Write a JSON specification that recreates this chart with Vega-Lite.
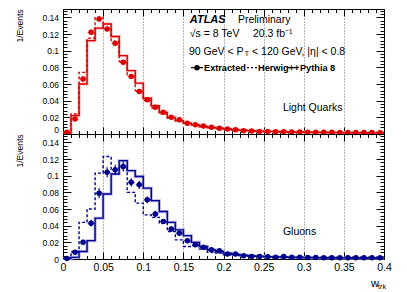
{
"$schema": "https://vega.github.io/schema/vega-lite/v6.json",
"padding": {"left": 15, "top": 8, "right": 10, "bottom": 4},
"spacing": 0,
"bounds": "flush",
"config": {
  "font": "Liberation Sans",
  "concat": {"spacing": 0},
  "view": {"stroke": "black", "strokeWidth": 1},
  "axis": {"tickColor": "black", "labelColor": "black", "titleColor": "black", "domain": false, "grid": false, "tickWidth": 1, "labelFont": "Liberation Sans", "titleFont": "Liberation Sans", "titleFontWeight": "normal"},
  "text": {"font": "Liberation Sans"}
},
"datasets": {
  "hq": [
    {"s":"P","x":0,"y":0.001},{"s":"P","x":0.01,"y":0.022},{"s":"P","x":0.02,"y":0.060},{"s":"P","x":0.03,"y":0.112},{"s":"P","x":0.04,"y":0.127},{"s":"P","x":0.05,"y":0.132},{"s":"P","x":0.06,"y":0.117},{"s":"P","x":0.07,"y":0.094},{"s":"P","x":0.08,"y":0.076},{"s":"P","x":0.09,"y":0.061},{"s":"P","x":0.10,"y":0.043},{"s":"P","x":0.11,"y":0.034},{"s":"P","x":0.12,"y":0.026},{"s":"P","x":0.13,"y":0.020},{"s":"P","x":0.14,"y":0.016},{"s":"P","x":0.15,"y":0.013},{"s":"P","x":0.16,"y":0.011},{"s":"P","x":0.17,"y":0.009},{"s":"P","x":0.18,"y":0.008},{"s":"P","x":0.19,"y":0.007},{"s":"P","x":0.20,"y":0.006},{"s":"P","x":0.21,"y":0.005},{"s":"P","x":0.22,"y":0.0045},{"s":"P","x":0.23,"y":0.004},{"s":"P","x":0.24,"y":0.0035},{"s":"P","x":0.25,"y":0.003},{"s":"P","x":0.26,"y":0.003},{"s":"P","x":0.27,"y":0.0027},{"s":"P","x":0.28,"y":0.0025},{"s":"P","x":0.29,"y":0.0023},{"s":"P","x":0.30,"y":0.0022},{"s":"P","x":0.31,"y":0.002},{"s":"P","x":0.32,"y":0.002},{"s":"P","x":0.33,"y":0.0018},{"s":"P","x":0.34,"y":0.0017},{"s":"P","x":0.35,"y":0.0016},{"s":"P","x":0.36,"y":0.0015},{"s":"P","x":0.37,"y":0.0015},{"s":"P","x":0.38,"y":0.0014},{"s":"P","x":0.39,"y":0.0014},{"s":"P","x":0.40,"y":0.0014},
    {"s":"H","x":0,"y":0.001},{"s":"H","x":0.01,"y":0.024},{"s":"H","x":0.02,"y":0.074},{"s":"H","x":0.03,"y":0.115},{"s":"H","x":0.04,"y":0.140},{"s":"H","x":0.05,"y":0.127},{"s":"H","x":0.06,"y":0.111},{"s":"H","x":0.07,"y":0.087},{"s":"H","x":0.08,"y":0.071},{"s":"H","x":0.09,"y":0.052},{"s":"H","x":0.10,"y":0.040},{"s":"H","x":0.11,"y":0.031},{"s":"H","x":0.12,"y":0.024},{"s":"H","x":0.13,"y":0.019},{"s":"H","x":0.14,"y":0.016},{"s":"H","x":0.15,"y":0.013},{"s":"H","x":0.16,"y":0.011},{"s":"H","x":0.17,"y":0.009},{"s":"H","x":0.18,"y":0.0075},{"s":"H","x":0.19,"y":0.0065},{"s":"H","x":0.20,"y":0.0055},{"s":"H","x":0.21,"y":0.005},{"s":"H","x":0.22,"y":0.0043},{"s":"H","x":0.23,"y":0.0038},{"s":"H","x":0.24,"y":0.0034},{"s":"H","x":0.25,"y":0.003},{"s":"H","x":0.26,"y":0.0028},{"s":"H","x":0.27,"y":0.0026},{"s":"H","x":0.28,"y":0.0024},{"s":"H","x":0.29,"y":0.0022},{"s":"H","x":0.30,"y":0.002},{"s":"H","x":0.31,"y":0.0019},{"s":"H","x":0.32,"y":0.0018},{"s":"H","x":0.33,"y":0.0017},{"s":"H","x":0.34,"y":0.0016},{"s":"H","x":0.35,"y":0.0015},{"s":"H","x":0.36,"y":0.0015},{"s":"H","x":0.37,"y":0.0014},{"s":"H","x":0.38,"y":0.0014},{"s":"H","x":0.39,"y":0.0013},{"s":"H","x":0.40,"y":0.0013}
  ],
  "hg": [
    {"s":"P","x":0,"y":0.0005},{"s":"P","x":0.01,"y":0.002},{"s":"P","x":0.02,"y":0.009},{"s":"P","x":0.03,"y":0.022},{"s":"P","x":0.04,"y":0.049},{"s":"P","x":0.05,"y":0.078},{"s":"P","x":0.06,"y":0.102},{"s":"P","x":0.07,"y":0.118},{"s":"P","x":0.08,"y":0.106},{"s":"P","x":0.09,"y":0.099},{"s":"P","x":0.10,"y":0.085},{"s":"P","x":0.11,"y":0.070},{"s":"P","x":0.12,"y":0.057},{"s":"P","x":0.13,"y":0.044},{"s":"P","x":0.14,"y":0.035},{"s":"P","x":0.15,"y":0.028},{"s":"P","x":0.16,"y":0.020},{"s":"P","x":0.17,"y":0.015},{"s":"P","x":0.18,"y":0.011},{"s":"P","x":0.19,"y":0.009},{"s":"P","x":0.20,"y":0.007},{"s":"P","x":0.21,"y":0.0055},{"s":"P","x":0.22,"y":0.0045},{"s":"P","x":0.23,"y":0.0038},{"s":"P","x":0.24,"y":0.0032},{"s":"P","x":0.25,"y":0.0028},{"s":"P","x":0.26,"y":0.0025},{"s":"P","x":0.27,"y":0.0022},{"s":"P","x":0.28,"y":0.002},{"s":"P","x":0.29,"y":0.0018},{"s":"P","x":0.30,"y":0.0017},{"s":"P","x":0.31,"y":0.0016},{"s":"P","x":0.32,"y":0.0015},{"s":"P","x":0.33,"y":0.0014},{"s":"P","x":0.34,"y":0.0013},{"s":"P","x":0.35,"y":0.0013},{"s":"P","x":0.36,"y":0.0012},{"s":"P","x":0.37,"y":0.0012},{"s":"P","x":0.38,"y":0.0011},{"s":"P","x":0.39,"y":0.0011},{"s":"P","x":0.40,"y":0.0011},
    {"s":"H","x":0,"y":0.001},{"s":"H","x":0.01,"y":0.009},{"s":"H","x":0.02,"y":0.044},{"s":"H","x":0.03,"y":0.060},{"s":"H","x":0.04,"y":0.103},{"s":"H","x":0.05,"y":0.123},{"s":"H","x":0.06,"y":0.108},{"s":"H","x":0.07,"y":0.110},{"s":"H","x":0.08,"y":0.080},{"s":"H","x":0.09,"y":0.067},{"s":"H","x":0.10,"y":0.053},{"s":"H","x":0.11,"y":0.050},{"s":"H","x":0.12,"y":0.043},{"s":"H","x":0.13,"y":0.033},{"s":"H","x":0.14,"y":0.023},{"s":"H","x":0.15,"y":0.015},{"s":"H","x":0.16,"y":0.016},{"s":"H","x":0.17,"y":0.012},{"s":"H","x":0.18,"y":0.008},{"s":"H","x":0.19,"y":0.007},{"s":"H","x":0.20,"y":0.005},{"s":"H","x":0.21,"y":0.0045},{"s":"H","x":0.22,"y":0.004},{"s":"H","x":0.23,"y":0.0035},{"s":"H","x":0.24,"y":0.003},{"s":"H","x":0.25,"y":0.0028},{"s":"H","x":0.26,"y":0.0026},{"s":"H","x":0.27,"y":0.0024},{"s":"H","x":0.28,"y":0.0022},{"s":"H","x":0.29,"y":0.002},{"s":"H","x":0.30,"y":0.0019},{"s":"H","x":0.31,"y":0.0018},{"s":"H","x":0.32,"y":0.0017},{"s":"H","x":0.33,"y":0.0016},{"s":"H","x":0.34,"y":0.0015},{"s":"H","x":0.35,"y":0.0014},{"s":"H","x":0.36,"y":0.0014},{"s":"H","x":0.37,"y":0.0013},{"s":"H","x":0.38,"y":0.0013},{"s":"H","x":0.39,"y":0.0012},{"s":"H","x":0.40,"y":0.0012}
  ],
  "eq": [
    {"c":0.005,"y":0.002,"e":0.001},{"c":0.015,"y":0.018,"e":0.002},{"c":0.025,"y":0.066,"e":0.003},{"c":0.035,"y":0.122,"e":0.003},{"c":0.045,"y":0.138,"e":0.003},{"c":0.055,"y":0.126,"e":0.003},{"c":0.065,"y":0.109,"e":0.003},{"c":0.075,"y":0.086,"e":0.003},{"c":0.085,"y":0.069,"e":0.003},{"c":0.095,"y":0.051,"e":0.002},{"c":0.105,"y":0.041,"e":0.002},{"c":0.115,"y":0.032,"e":0.002},{"c":0.125,"y":0.026,"e":0.002},{"c":0.135,"y":0.020,"e":0.002},{"c":0.145,"y":0.017,"e":0.002},{"c":0.155,"y":0.013,"e":0.001},{"c":0.165,"y":0.011,"e":0.001},{"c":0.175,"y":0.0095,"e":0.001},{"c":0.185,"y":0.008,"e":0.001},{"c":0.195,"y":0.007,"e":0.001},{"c":0.205,"y":0.006,"e":0.001},{"c":0.215,"y":0.005,"e":0.001},{"c":0.225,"y":0.004,"e":0.001},{"c":0.235,"y":0.0035,"e":0.001},{"c":0.245,"y":0.003,"e":0.001},{"c":0.255,"y":0.003,"e":0.001},{"c":0.265,"y":0.0028,"e":0.001},{"c":0.275,"y":0.0026,"e":0.001},{"c":0.285,"y":0.0025,"e":0.001},{"c":0.295,"y":0.0024,"e":0.001},{"c":0.305,"y":0.0022,"e":0.001},{"c":0.315,"y":0.0021,"e":0.001},{"c":0.325,"y":0.002,"e":0.001},{"c":0.335,"y":0.002,"e":0.001},{"c":0.345,"y":0.0019,"e":0.001},{"c":0.355,"y":0.0018,"e":0.001},{"c":0.365,"y":0.0018,"e":0.001},{"c":0.375,"y":0.0017,"e":0.001},{"c":0.385,"y":0.0017,"e":0.001},{"c":0.395,"y":0.0016,"e":0.001}
  ],
  "eg": [
    {"c":0.005,"y":0.0005,"e":0.001},{"c":0.015,"y":0.008,"e":0.002},{"c":0.025,"y":0.020,"e":0.003},{"c":0.035,"y":0.043,"e":0.004},{"c":0.045,"y":0.079,"e":0.006},{"c":0.055,"y":0.104,"e":0.006},{"c":0.065,"y":0.107,"e":0.006},{"c":0.075,"y":0.111,"e":0.006},{"c":0.085,"y":0.092,"e":0.005},{"c":0.095,"y":0.089,"e":0.005},{"c":0.105,"y":0.071,"e":0.004},{"c":0.115,"y":0.054,"e":0.004},{"c":0.125,"y":0.045,"e":0.003},{"c":0.135,"y":0.036,"e":0.003},{"c":0.145,"y":0.031,"e":0.003},{"c":0.155,"y":0.022,"e":0.003},{"c":0.165,"y":0.017,"e":0.002},{"c":0.175,"y":0.014,"e":0.002},{"c":0.185,"y":0.011,"e":0.002},{"c":0.195,"y":0.010,"e":0.002},{"c":0.205,"y":0.006,"e":0.002},{"c":0.215,"y":0.006,"e":0.001},{"c":0.225,"y":0.004,"e":0.001},{"c":0.235,"y":0.003,"e":0.001},{"c":0.245,"y":0.003,"e":0.001},{"c":0.255,"y":0.0028,"e":0.001},{"c":0.265,"y":0.002,"e":0.001},{"c":0.275,"y":0.003,"e":0.001},{"c":0.285,"y":0.002,"e":0.001},{"c":0.295,"y":0.002,"e":0.001},{"c":0.305,"y":0.0018,"e":0.001},{"c":0.315,"y":0.0017,"e":0.001},{"c":0.325,"y":0.0016,"e":0.001},{"c":0.335,"y":0.0016,"e":0.001},{"c":0.345,"y":0.0015,"e":0.001},{"c":0.355,"y":0.0015,"e":0.001},{"c":0.365,"y":0.0015,"e":0.001},{"c":0.375,"y":0.0014,"e":0.001},{"c":0.385,"y":0.0014,"e":0.001},{"c":0.395,"y":0.0014,"e":0.001}
  ]
},
"vconcat": [
{
  "width": 321, "height": 125,
  "resolve": {"axis": {"x": "independent", "y": "independent"}},
  "layer": [
    {"data": {"name": "hq"}, "transform": [{"filter": "datum.s === 'P'"}],
     "mark": {"type": "line", "interpolate": "step-after", "color": "#f7b9b9", "strokeWidth": 3},
     "encoding": {
       "x": {"field": "x", "type": "quantitative", "scale": {"domain": [0, 0.4], "nice": false},
             "axis": {"orient": "bottom", "values": [0,0.05,0.1,0.15,0.2,0.25,0.3,0.35,0.4], "labels": false, "tickSize": -7, "grid": true, "gridDash": [1,2], "gridColor": "#444", "gridWidth": 0.8, "title": null}},
       "y": {"field": "y", "type": "quantitative", "scale": {"domain": [0, 0.15], "nice": false},
             "axis": {"orient": "left", "values": [0,0.02,0.04,0.06,0.08,0.1,0.12,0.14], "format": ".2~f", "labelFontSize": 8.5, "labelFlush": true, "tickSize": -8, "labelPadding": 12.5, "title": "1/Events", "titleAnchor": "end", "titleFontSize": 8.5, "titlePadding": 17}}
     }},
    {"data": {"name": "hq"}, "transform": [{"filter": "datum.s === 'H'"}],
     "mark": {"type": "line", "interpolate": "step-after", "color": "#dd0000", "strokeWidth": 1.4, "strokeDash": [3,2]},
     "encoding": {
       "x": {"field": "x", "type": "quantitative", "axis": {"orient": "top", "values": [0,0.05,0.1,0.15,0.2,0.25,0.3,0.35,0.4], "labels": false, "tickSize": -7, "title": null}},
       "y": {"field": "y", "type": "quantitative", "axis": {"orient": "right", "values": [0,0.02,0.04,0.06,0.08,0.1,0.12,0.14], "labels": false, "tickSize": -8, "title": null}}
     }},
    {"data": {"name": "hq"}, "transform": [{"filter": "datum.s === 'P'"}],
     "mark": {"type": "line", "interpolate": "step-after", "color": "#dd0000", "strokeWidth": 1.4},
     "encoding": {
       "x": {"field": "x", "type": "quantitative", "axis": {"orient": "bottom", "values": [0,0.01,0.02,0.03,0.04,0.05,0.06,0.07,0.08,0.09,0.1,0.11,0.12,0.13,0.14,0.15,0.16,0.17,0.18,0.19,0.2,0.21,0.22,0.23,0.24,0.25,0.26,0.27,0.28,0.29,0.3,0.31,0.32,0.33,0.34,0.35,0.36,0.37,0.38,0.39,0.4], "labels": false, "tickSize": -3.5, "title": null}},
       "y": {"field": "y", "type": "quantitative", "axis": {"orient": "left", "values": [0,0.004,0.008,0.012,0.016,0.02,0.024,0.028,0.032,0.036,0.04,0.044,0.048,0.052,0.056,0.06,0.064,0.068,0.072,0.076,0.08,0.084,0.088,0.092,0.096,0.1,0.104,0.108,0.112,0.116,0.12,0.124,0.128,0.132,0.136,0.14,0.144,0.148], "labels": false, "tickSize": -4, "title": null}}
     }},
    {"data": {"name": "eq"},
     "mark": {"type": "errorbar", "ticks": false, "thickness": 1.2},
     "encoding": {
       "x": {"field": "c", "type": "quantitative", "axis": null},
       "y": {"field": "y", "type": "quantitative", "axis": null},
       "yError": {"field": "e"},
       "color": {"value": "#dd0000"}
     }},
    {"data": {"name": "eq"},
     "mark": {"type": "tick", "orient": "horizontal", "size": 7, "thickness": 1.2, "color": "#dd0000"},
     "encoding": {
       "x": {"field": "c", "type": "quantitative", "axis": null},
       "y": {"field": "y", "type": "quantitative", "axis": null}
     }},
    {"data": {"name": "eq"},
     "mark": {"type": "point", "filled": true, "opacity": 1, "size": 30, "color": "#dd0000"},
     "encoding": {
       "x": {"field": "c", "type": "quantitative", "axis": {"orient": "top", "values": [0,0.01,0.02,0.03,0.04,0.05,0.06,0.07,0.08,0.09,0.1,0.11,0.12,0.13,0.14,0.15,0.16,0.17,0.18,0.19,0.2,0.21,0.22,0.23,0.24,0.25,0.26,0.27,0.28,0.29,0.3,0.31,0.32,0.33,0.34,0.35,0.36,0.37,0.38,0.39,0.4], "labels": false, "tickSize": -3.5, "title": null}},
       "y": {"field": "y", "type": "quantitative", "axis": {"orient": "right", "values": [0,0.004,0.008,0.012,0.016,0.02,0.024,0.028,0.032,0.036,0.04,0.044,0.048,0.052,0.056,0.06,0.064,0.068,0.072,0.076,0.08,0.084,0.088,0.092,0.096,0.1,0.104,0.108,0.112,0.116,0.12,0.124,0.128,0.132,0.136,0.14,0.144,0.148], "labels": false, "tickSize": -4, "title": null}}
     }},
    {"data": {"values": [{}]},
     "mark": {"type": "text", "text": "ATLAS", "fontWeight": "bold", "fontStyle": "italic", "fontSize": 11, "align": "left", "baseline": "middle"},
     "encoding": {"x": {"datum": 0.158, "axis": null}, "y": {"datum": 0.1368, "axis": null}}},
    {"data": {"values": [{}]},
     "mark": {"type": "text", "text": "Preliminary", "fontSize": 10.5, "align": "left", "baseline": "middle"},
     "encoding": {"x": {"datum": 0.218, "axis": null}, "y": {"datum": 0.1368, "axis": null}}},
    {"data": {"values": [{}]},
     "mark": {"type": "text", "text": "√s = 8 TeV", "fontSize": 10.5, "align": "left", "baseline": "middle"},
     "encoding": {"x": {"datum": 0.158, "axis": null}, "y": {"datum": 0.1196, "axis": null}}},
    {"data": {"values": [{}]},
     "mark": {"type": "text", "text": "20.3 fb⁻¹", "fontSize": 10.5, "align": "left", "baseline": "middle"},
     "encoding": {"x": {"datum": 0.2367, "axis": null}, "y": {"datum": 0.1196, "axis": null}}},
    {"data": {"values": [{}]},
     "mark": {"type": "text", "text": "90 GeV < P", "fontSize": 10.5, "align": "left", "baseline": "middle"},
     "encoding": {"x": {"datum": 0.157, "axis": null}, "y": {"datum": 0.0984, "axis": null}}},
    {"data": {"values": [{}]},
     "mark": {"type": "text", "text": "T", "fontSize": 7, "align": "left", "baseline": "middle"},
     "encoding": {"x": {"datum": 0.2265, "axis": null}, "y": {"datum": 0.0955, "axis": null}}},
    {"data": {"values": [{}]},
     "mark": {"type": "text", "text": "< 120 GeV, |η| < 0.8", "fontSize": 10.5, "align": "left", "baseline": "middle"},
     "encoding": {"x": {"datum": 0.2355, "axis": null}, "y": {"datum": 0.0984, "axis": null}}},
    {"data": {"values": [{}]},
     "mark": {"type": "rule", "color": "black", "strokeWidth": 1.2},
     "encoding": {"x": {"datum": 0.1595, "axis": null}, "x2": {"datum": 0.1745}, "y": {"datum": 0.0796, "axis": null}}},
    {"data": {"values": [{}]},
     "mark": {"type": "point", "filled": true, "opacity": 1, "size": 30, "color": "black"},
     "encoding": {"x": {"datum": 0.167, "axis": null}, "y": {"datum": 0.0796, "axis": null}}},
    {"data": {"values": [{}]},
     "mark": {"type": "text", "text": "Extracted", "fontSize": 9.2, "fontWeight": "bold", "align": "left", "baseline": "middle"},
     "encoding": {"x": {"datum": 0.1757, "axis": null}, "y": {"datum": 0.0796, "axis": null}}},
    {"data": {"values": [{}]},
     "mark": {"type": "rule", "color": "black", "strokeWidth": 1.2, "strokeDash": [2,2]},
     "encoding": {"x": {"datum": 0.2293, "axis": null}, "x2": {"datum": 0.2417}, "y": {"datum": 0.0796, "axis": null}}},
    {"data": {"values": [{}]},
     "mark": {"type": "text", "text": "Herwig++", "fontSize": 9.2, "fontWeight": "bold", "align": "left", "baseline": "middle"},
     "encoding": {"x": {"datum": 0.243, "axis": null}, "y": {"datum": 0.0796, "axis": null}}},
    {"data": {"values": [{}]},
     "mark": {"type": "rule", "color": "black", "strokeWidth": 1.2},
     "encoding": {"x": {"datum": 0.2791, "axis": null}, "x2": {"datum": 0.2928}, "y": {"datum": 0.0796, "axis": null}}},
    {"data": {"values": [{}]},
     "mark": {"type": "text", "text": "Pythia 8", "fontSize": 9.2, "fontWeight": "bold", "align": "left", "baseline": "middle"},
     "encoding": {"x": {"datum": 0.2953, "axis": null}, "y": {"datum": 0.0796, "axis": null}}},
    {"data": {"values": [{}]},
     "mark": {"type": "text", "text": "Light Quarks", "fontSize": 10.5, "align": "left", "baseline": "middle"},
     "encoding": {"x": {"datum": 0.274, "axis": null}, "y": {"datum": 0.0316, "axis": null}}}
  ]
},
{
  "width": 321, "height": 125,
  "resolve": {"axis": {"x": "independent", "y": "independent"}},
  "layer": [
    {"data": {"name": "hg"}, "transform": [{"filter": "datum.s === 'P'"}],
     "mark": {"type": "line", "interpolate": "step-after", "color": "#b0b0e0", "strokeWidth": 3},
     "encoding": {
       "x": {"field": "x", "type": "quantitative", "scale": {"domain": [0, 0.4], "nice": false},
             "axis": {"orient": "bottom", "values": [0,0.05,0.1,0.15,0.2,0.25,0.3,0.35,0.4], "format": ".2~f", "labelFontSize": 10.5, "labelPadding": 10, "labelFlush": false, "tickSize": -7, "grid": true, "gridDash": [1,2], "gridColor": "#444", "gridWidth": 0.8, "title": null}},
       "y": {"field": "y", "type": "quantitative", "scale": {"domain": [0, 0.15], "nice": false},
             "axis": {"orient": "left", "values": [0,0.02,0.04,0.06,0.08,0.1,0.12,0.14], "format": ".2~f", "labelFontSize": 8.5, "tickSize": -8, "labelPadding": 12.5, "title": "1/Events", "titleAnchor": "end", "titleFontSize": 8.5, "titlePadding": 17}}
     }},
    {"data": {"name": "hg"}, "transform": [{"filter": "datum.s === 'H'"}],
     "mark": {"type": "line", "interpolate": "step-after", "color": "#000099", "strokeWidth": 1.4, "strokeDash": [3,2]},
     "encoding": {
       "x": {"field": "x", "type": "quantitative", "axis": {"orient": "top", "values": [0,0.05,0.1,0.15,0.2,0.25,0.3,0.35,0.4], "labels": false, "tickSize": -7, "title": null}},
       "y": {"field": "y", "type": "quantitative", "axis": {"orient": "right", "values": [0,0.02,0.04,0.06,0.08,0.1,0.12,0.14], "labels": false, "tickSize": -8, "title": null}}
     }},
    {"data": {"name": "hg"}, "transform": [{"filter": "datum.s === 'P'"}],
     "mark": {"type": "line", "interpolate": "step-after", "color": "#000099", "strokeWidth": 1.4},
     "encoding": {
       "x": {"field": "x", "type": "quantitative", "axis": {"orient": "bottom", "values": [0,0.01,0.02,0.03,0.04,0.05,0.06,0.07,0.08,0.09,0.1,0.11,0.12,0.13,0.14,0.15,0.16,0.17,0.18,0.19,0.2,0.21,0.22,0.23,0.24,0.25,0.26,0.27,0.28,0.29,0.3,0.31,0.32,0.33,0.34,0.35,0.36,0.37,0.38,0.39,0.4], "labels": false, "tickSize": -3.5, "title": null}},
       "y": {"field": "y", "type": "quantitative", "axis": {"orient": "left", "values": [0,0.004,0.008,0.012,0.016,0.02,0.024,0.028,0.032,0.036,0.04,0.044,0.048,0.052,0.056,0.06,0.064,0.068,0.072,0.076,0.08,0.084,0.088,0.092,0.096,0.1,0.104,0.108,0.112,0.116,0.12,0.124,0.128,0.132,0.136,0.14,0.144,0.148], "labels": false, "tickSize": -4, "title": null}}
     }},
    {"data": {"name": "eg"},
     "mark": {"type": "errorbar", "ticks": false, "thickness": 1.2},
     "encoding": {
       "x": {"field": "c", "type": "quantitative", "axis": null},
       "y": {"field": "y", "type": "quantitative", "axis": null},
       "yError": {"field": "e"},
       "color": {"value": "#00008b"}
     }},
    {"data": {"name": "eg"},
     "mark": {"type": "tick", "orient": "horizontal", "size": 7, "thickness": 1.2, "color": "#00008b"},
     "encoding": {
       "x": {"field": "c", "type": "quantitative", "axis": null},
       "y": {"field": "y", "type": "quantitative", "axis": null}
     }},
    {"data": {"name": "eg"},
     "mark": {"type": "point", "filled": true, "opacity": 1, "size": 30, "color": "#00008b"},
     "encoding": {
       "x": {"field": "c", "type": "quantitative", "axis": {"orient": "top", "values": [0,0.01,0.02,0.03,0.04,0.05,0.06,0.07,0.08,0.09,0.1,0.11,0.12,0.13,0.14,0.15,0.16,0.17,0.18,0.19,0.2,0.21,0.22,0.23,0.24,0.25,0.26,0.27,0.28,0.29,0.3,0.31,0.32,0.33,0.34,0.35,0.36,0.37,0.38,0.39,0.4], "labels": false, "tickSize": -3.5, "title": null}},
       "y": {"field": "y", "type": "quantitative", "axis": {"orient": "right", "values": [0,0.004,0.008,0.012,0.016,0.02,0.024,0.028,0.032,0.036,0.04,0.044,0.048,0.052,0.056,0.06,0.064,0.068,0.072,0.076,0.08,0.084,0.088,0.092,0.096,0.1,0.104,0.108,0.112,0.116,0.12,0.124,0.128,0.132,0.136,0.14,0.144,0.148], "labels": false, "tickSize": -4, "title": null}}
     }},
    {"data": {"values": [{}]},
     "mark": {"type": "text", "text": "Gluons", "fontSize": 10.5, "align": "left", "baseline": "middle"},
     "encoding": {"x": {"datum": 0.274, "axis": null}, "y": {"datum": 0.0328, "axis": null}}},
    {"data": {"values": [{}]},
     "mark": {"type": "text", "text": "w", "fontSize": 11, "align": "center", "baseline": "middle"},
     "encoding": {"x": {"datum": 0.3888, "axis": null}, "y": {"datum": -0.0296, "axis": null}}},
    {"data": {"values": [{}]},
     "mark": {"type": "text", "text": "trk", "fontSize": 7, "align": "center", "baseline": "middle"},
     "encoding": {"x": {"datum": 0.3975, "axis": null}, "y": {"datum": -0.0336, "axis": null}}}
  ]
}
]
}
